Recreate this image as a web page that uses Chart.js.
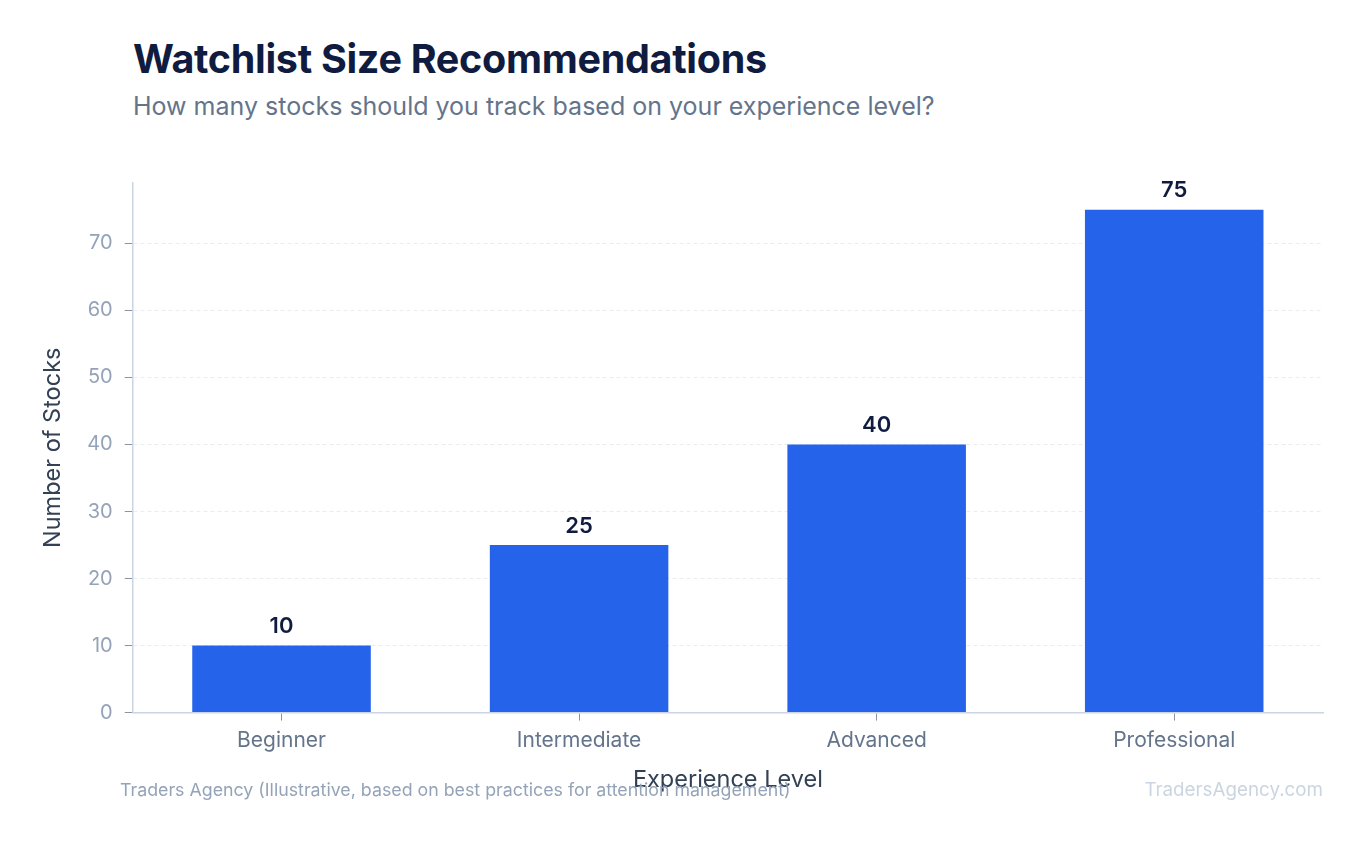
<!DOCTYPE html>
<html>
<head>
<meta charset="utf-8">
<script src="https://cdn.jsdelivr.net/npm/chart.js@4.4.0/dist/chart.umd.min.js"></script>
<style>
    html, body { margin: 0; padding: 0; background: #ffffff; }
    body { width: 1368px; height: 845px; position: relative; overflow: hidden; font-family: Inter, "Noto Sans", sans-serif; }
    #titulo { position: absolute; left: 133px; top: 35px; font-size: 39.5px; font-weight: 700; color: #101c3f; letter-spacing: -0.3px; }
    #subtitulo { position: absolute; left: 133px; top: 91px; font-size: 25px; color: #64748b; }
    #fuente { position: absolute; left: 120px; top: 779px; font-size: 17.8px; color: #94a3b8; }
    #marca { position: absolute; right: 45px; top: 778px; font-size: 18.8px; color: #cbd5e1; }
    #grafico { position: absolute; left: 0; top: 0; }
</style>
</head>
<body>
<div id="titulo">Watchlist Size Recommendations</div>
<div id="subtitulo">How many stocks should you track based on your experience level?</div>
<canvas id="grafico" width="1368" height="845"></canvas>
<div id="fuente">Traders Agency (Illustrative, based on best practices for attention management)</div>
<div id="marca">TradersAgency.com</div>

<script>
// Datos del gráfico
const niveles = ['Beginner', 'Intermediate', 'Advanced', 'Professional'];
const acciones = [10, 25, 40, 75];
const ticksY = [0, 10, 20, 30, 40, 50, 60, 70];

// Etiquetas de valor encima de cada barra
const etiquetasValor = {
    id: 'etiquetasValor',
    afterDatasetsDraw(chart) {
        const ctx = chart.ctx;
        const meta = chart.getDatasetMeta(0);
        ctx.save();
        ctx.font = '600 22px Inter, "Noto Sans", sans-serif';
        ctx.fillStyle = '#101c3f';
        ctx.textAlign = 'center';
        ctx.textBaseline = 'bottom';
        meta.data.forEach((bar, i) => {
            ctx.fillText(String(acciones[i]), bar.x, bar.y - 8);
        });
        ctx.restore();
    }
};

function dibujarGrafico() {
    const ctx = document.getElementById('grafico').getContext('2d');
    new Chart(ctx, {
        type: 'bar',
        data: {
            labels: niveles,
            datasets: [{
                data: acciones,
                backgroundColor: '#2563eb',
                borderWidth: 0,
                categoryPercentage: 1,
                barPercentage: 0.6
            }]
        },
        options: {
            responsive: false,
            animation: false,
            layout: { padding: { top: 183, right: 45, bottom: 51, left: 39 } },
            plugins: {
                legend: { display: false },
                tooltip: { enabled: false }
            },
            scales: {
                x: {
                    grid: {
                        display: true,
                        offset: false,
                        drawOnChartArea: false,
                        drawTicks: true,
                        tickLength: 8,
                        tickWidth: 1,
                        tickColor: '#8a94a6'
                    },
                    border: { display: true, color: '#cbd5e1', width: 1.5 },
                    ticks: {
                        color: '#64748b',
                        font: { family: 'Inter', size: 21 },
                        padding: 7
                    },
                    title: {
                        display: true,
                        text: 'Experience Level',
                        color: '#334155',
                        font: { family: 'Inter', size: 23.5 },
                        padding: { top: 6, bottom: 0 }
                    }
                },
                y: {
                    min: 0,
                    max: 79,
                    afterBuildTicks(scale) {
                        scale.ticks = ticksY.map(v => ({ value: v }));
                    },
                    grid: {
                        color: '#e9ecf1',
                        lineWidth: 1,
                        drawTicks: true,
                        tickLength: 8,
                        tickColor: '#8a94a6',
                        tickBorderDash: []
                    },
                    border: { display: true, color: '#cbd5e1', width: 1.5, dash: [4, 3] },
                    ticks: {
                        color: '#94a3b8',
                        font: { family: 'Inter', size: 20 },
                        padding: 12
                    },
                    title: {
                        display: true,
                        text: 'Number of Stocks',
                        color: '#334155',
                        font: { family: 'Inter', size: 23.5 },
                        padding: { top: 0, bottom: 8 }
                    }
                }
            }
        },
        plugins: [etiquetasValor]
    });
}

dibujarGrafico();
</script>
</body>
</html>
